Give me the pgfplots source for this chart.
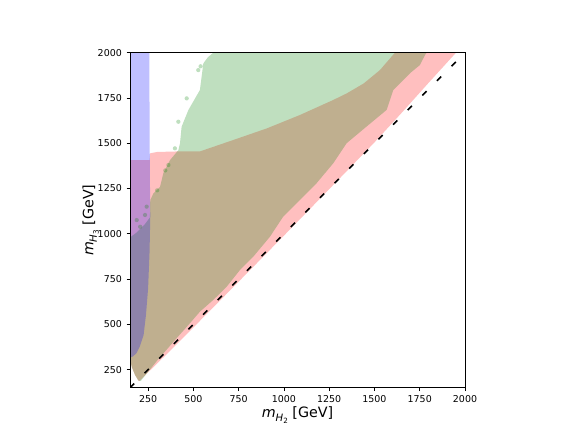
\documentclass[border=0pt]{standalone}
\usepackage{pgfplots}
\pgfplotsset{compat=1.18}
\usepackage{fontspec}
\setmainfont{DejaVu Sans}
\definecolor{mplgreen}{RGB}{0,128,0}
\newcommand{\mH}[1]{{\itshape m}\raisebox{-0.45ex}{\fontsize{7.6}{8}\selectfont\itshape H\raisebox{-0.3ex}{\fontsize{5.4}{6}\selectfont\upshape #1}}\ [GeV]}
\begin{document}
\begin{tikzpicture}
\path[use as bounding box] (0,0) rectangle (435.75pt,327pt);
\begin{axis}[
  at={(97.5pt,36.2pt)}, anchor=south west,
  scale only axis, width=251.25pt, height=251.25pt,
  xmin=150, xmax=2000, ymin=150, ymax=2000,
  xtick={250,500,...,2000}, ytick={250,500,...,2000},
  xtick pos=bottom, ytick pos=left,
  tick align=outside, major tick length=2.6pt,
  tick style={black, line width=0.55pt},
  axis line style={line width=0.55pt},
  tick label style={font=\fontsize{7.1}{8}\selectfont},
  /pgf/number format/assume math mode=true,
  /pgf/number format/1000 sep={},
  label style={font=\fontsize{10.7}{12}\selectfont},
  xlabel={\mH{2}}, ylabel={\mH{3}},
  xlabel style={at={(axis description cs:0.5,0)}, anchor=north, yshift=-11pt},
  ylabel style={at={(axis description cs:0,0.5)}, anchor=south, yshift=20pt},
  axis on top,
]
% red region
\addplot[draw=none, fill=red, fill opacity=0.25] coordinates {
(150,317) (150,1407) (258,1407) (262,1445) (300,1452) (417,1455) (536,1455)
(720,1518) (905,1582) (1088,1656) (1272,1739) (1346,1775) (1440,1830)
(1530,1904) (1600,1985) (1613,2000) (1950,2000) (1800,1835) (1650,1668)
(1500,1505) (1300,1298) (1000,990) (700,685) (400,382) (200,186) (196,190)
(178,220) (159,266) (150,317)};
% green region
\addplot[draw=none, fill=mplgreen, fill opacity=0.25] coordinates {
(610,2000) (1788,2000) (1779,1987) (1751,1932) (1700,1890) (1641,1831)
(1604,1794) (1567,1684) (1456,1592) (1346,1500) (1272,1389) (1180,1279)
(1088,1187) (996,1095) (923,984) (831,874) (757,800) (684,708) (610,635)
(536,570) (480,505) (398,413) (300,300) (209,187) (196,190) (178,220)
(159,266) (150,317) (150,980) (190,1010) (230,1050) (260,1090) (262,1186)
(279,1223) (316,1260) (334,1334) (371,1407) (417,1462) (426,1499)
(435,1591) (472,1683) (536,1794) (555,1941) (580,1975) (610,2000)};
% scattered green points
\addplot[color=mplgreen, only marks, mark=*, mark size=1.6pt,
  mark options={draw opacity=0, fill=mplgreen, fill opacity=0.25}] coordinates {
(527,1904) (540,1925) (463,1748) (417,1619) (398,1472) (187,1076) (233,1104)
(242,1150) (206,1039) (362,1380) (345,1350) (300,1240)};
% blue region
\addplot[draw=none, fill=blue, fill opacity=0.25] coordinates {
(150,2000) (257,2000) (258,1600) (260,1300) (262,1100) (258,900) (250,700)
(238,550) (225,440) (205,380) (185,340) (165,322) (150,317)};
% diagonal
\addplot[black, line width=1.1pt, dash pattern=on 4.5pt off 11pt] coordinates {(150,150) (2000,2000)};
\end{axis}
\end{tikzpicture}
\end{document}
